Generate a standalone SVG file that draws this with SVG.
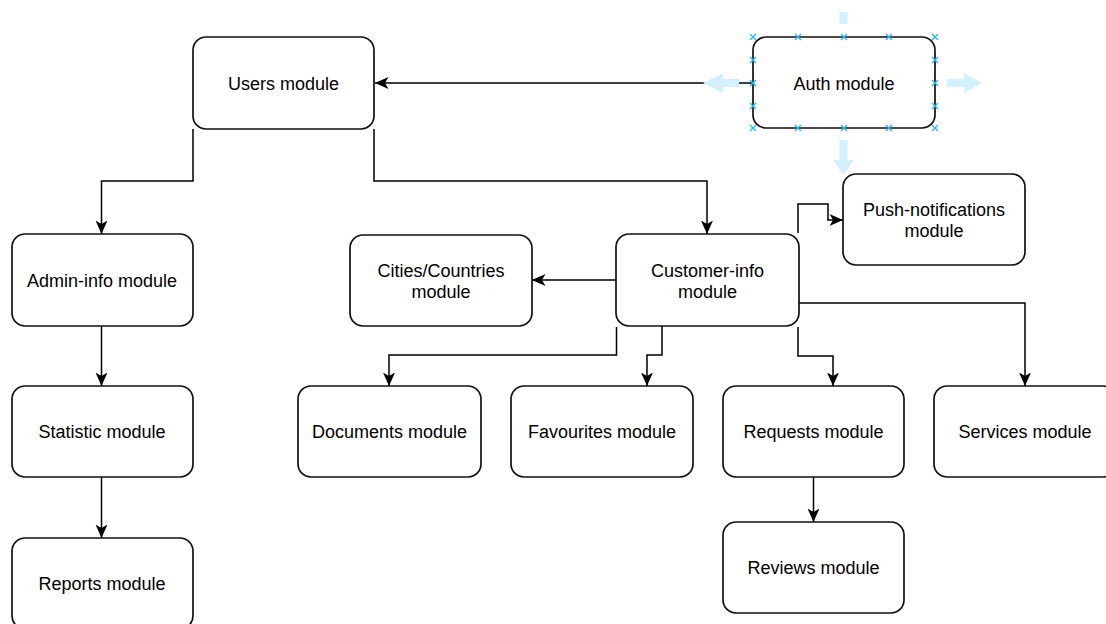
<svg xmlns="http://www.w3.org/2000/svg" width="1106" height="624" viewBox="0 0 1106 624">
<style>
.box{fill:#fff;stroke:#111;stroke-width:1.7}
.lbl{font-family:"Liberation Sans",Arial,Helvetica,sans-serif;font-size:18px;fill:#000;text-anchor:middle}
.edge{fill:none;stroke:#000;stroke-width:1.5;marker-end:url(#arr)}
.hov{fill:#d4f0fc;stroke:none}
.hx{stroke:#29b6f2;stroke-width:1.3;fill:none}
</style>
<defs>
<marker id="arr" markerUnits="userSpaceOnUse" viewBox="0 0 14 13" refX="13.5" refY="6.5" markerWidth="14" markerHeight="13" orient="auto">
<path d="M0,0.5 L13.5,6.5 L0,12.5 L3.5,6.5 Z" fill="#000"/>
</marker>
<path id="xm" class="hx" d="M-3,-3 L3,3 M-3,3 L3,-3"/>
</defs>
<rect width="1106" height="624" fill="#fff"/>

<g id="connectors">
<path class="edge" d="M753,83 L375,83"/>
<path class="edge" d="M193,129 L193,181 L101.5,181 L101.5,234"/>
<path class="edge" d="M374,129 L374,181 L707,181 L707,234"/>
<path class="edge" d="M101.5,326 L101.5,386"/>
<path class="edge" d="M101.5,477 L101.5,538"/>
<path class="edge" d="M616,280 L532,280"/>
<path class="edge" d="M616.5,327 L616.5,355 L389,355 L389,386"/>
<path class="edge" d="M662,326 L662,355 L647,355 L647,386"/>
<path class="edge" d="M798,327 L798,356 L833,356 L833,386"/>
<path class="edge" d="M799,303 L1025,303 L1025,386"/>
<path class="edge" d="M798,233 L798,204 L828,204 L828,220 L843,220"/>
<path class="edge" d="M813.5,477 L813.5,522"/>
</g>

<g id="users"><rect class="box" x="193" y="37" width="181" height="92" rx="13"/><text class="lbl" x="283.5" y="90">Users module</text></g>
<g id="auth"><rect class="box" x="753" y="37" width="182" height="91" rx="13"/><text class="lbl" x="844" y="90">Auth module</text></g>
<g id="admin"><rect class="box" x="12" y="234" width="181" height="92" rx="13"/><text class="lbl" x="102" y="287">Admin-info module</text></g>
<g id="cities"><rect class="box" x="350" y="235" width="182" height="91" rx="13"/><text class="lbl" x="441" y="277">Cities/Countries</text><text class="lbl" x="441" y="298">module</text></g>
<g id="customer"><rect class="box" x="616" y="234" width="183" height="92" rx="13"/><text class="lbl" x="707.5" y="277">Customer-info</text><text class="lbl" x="707.5" y="298">module</text></g>
<g id="push"><rect class="box" x="843" y="174" width="182" height="91" rx="13"/><text class="lbl" x="934" y="216">Push-notifications</text><text class="lbl" x="934" y="237">module</text></g>
<g id="statistic"><rect class="box" x="12" y="386" width="181" height="91" rx="13"/><text class="lbl" x="102" y="438">Statistic module</text></g>
<g id="documents"><rect class="box" x="298" y="386" width="183" height="91" rx="13"/><text class="lbl" x="389.5" y="438">Documents module</text></g>
<g id="favourites"><rect class="box" x="511" y="386" width="182" height="91" rx="13"/><text class="lbl" x="602" y="438">Favourites module</text></g>
<g id="requests"><rect class="box" x="723" y="386" width="181" height="91" rx="13"/><text class="lbl" x="813.5" y="438">Requests module</text></g>
<g id="services"><rect class="box" x="934" y="386" width="182" height="91" rx="13"/><text class="lbl" x="1025" y="438">Services module</text></g>
<g id="reports"><rect class="box" x="12" y="538" width="181" height="91" rx="13"/><text class="lbl" x="102" y="590">Reports module</text></g>
<g id="reviews"><rect class="box" x="723" y="522" width="181" height="91" rx="13"/><text class="lbl" x="813.5" y="574">Reviews module</text></g>

<g id="selection">
<rect class="hov" x="839.5" y="12" width="8" height="12"/>
<path class="hov" d="M839.5,140 L847.5,140 L847.5,160 L854,160 L843.5,175 L833,160 L839.5,160 Z"/>
<path class="hov" d="M739,79 L739,87 L723,87 L723,93 L703,83 L723,73 L723,79 Z"/>
<path class="hov" d="M947,79 L947,87 L964,87 L964,93 L982,83 L964,73 L964,79 Z"/>
<use href="#xm" x="753" y="37"/><use href="#xm" x="798" y="37"/><use href="#xm" x="844" y="37"/><use href="#xm" x="889" y="37"/><use href="#xm" x="935" y="37"/>
<use href="#xm" x="753" y="128"/><use href="#xm" x="798" y="128"/><use href="#xm" x="844" y="128"/><use href="#xm" x="889" y="128"/><use href="#xm" x="935" y="128"/>
<use href="#xm" x="753" y="60"/><use href="#xm" x="753" y="83"/><use href="#xm" x="753" y="106"/>
<use href="#xm" x="935" y="60"/><use href="#xm" x="935" y="83"/><use href="#xm" x="935" y="106"/>
</g>
</svg>
